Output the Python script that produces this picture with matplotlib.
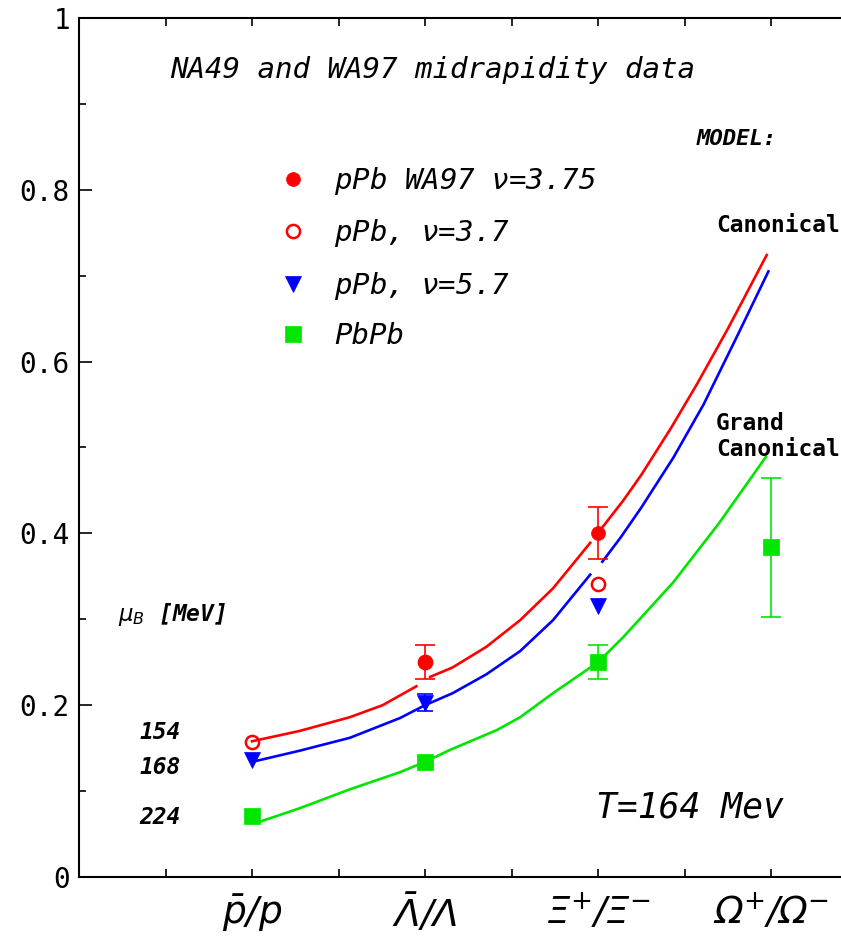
import numpy as np
import matplotlib
matplotlib.use("Agg")
import matplotlib.pyplot as plt
from matplotlib.ticker import MultipleLocator, FixedLocator, FixedFormatter

plt.rcParams['mathtext.fontset'] = 'custom'
plt.rcParams['mathtext.rm'] = 'DejaVu Sans:italic'
plt.rcParams['mathtext.it'] = 'DejaVu Sans:italic'
plt.rcParams['mathtext.bf'] = 'DejaVu Sans:bold:italic'

# ---------------- data ----------------
cat_pos = [2, 4, 6, 8]
cat_labels = [r'$\bar{p}/p$',
              r'$\bar{\Lambda}/\Lambda$',
              r'$\Xi^{+}/\Xi^{-}$',
              r'$\Omega^{+}/\Omega^{-}$']

# pPb WA97 nu=3.75 (filled red circles)
wa97_x = [4, 6]
wa97_y = [0.250, 0.400]
wa97_elo = [0.020, 0.030]
wa97_ehi = [0.020, 0.031]

# pPb nu=3.7 (open red circles)
pPb37_x = [2, 4, 6]
pPb37_y = [0.157, 0.250, 0.341]

# pPb nu=5.7 (blue triangles)
pPb57_x = [2, 4, 6]
pPb57_y = [0.136, 0.203, 0.316]
pPb57_err = [0.0, 0.010, 0.0]

# PbPb (green squares)
pbpb_x = [2, 4, 6, 8]
pbpb_y = [0.071, 0.134, 0.250, 0.384]
pbpb_elo = [0.0, 0.0, 0.020, 0.081]
pbpb_ehi = [0.0, 0.0, 0.020, 0.080]

# model curves (segment by segment)
red_seg1_x = [2.0, 2.55, 3.13, 3.51, 3.90]
red_seg1_y = [0.158, 0.170, 0.186, 0.200, 0.222]
red_seg2_x = [4.06, 4.32, 4.71, 5.10, 5.48, 5.91]
red_seg2_y = [0.233, 0.244, 0.268, 0.299, 0.336, 0.389]
red_seg3_x = [6.05, 6.29, 6.50, 6.84, 7.14, 7.50, 7.72, 7.95]
red_seg3_y = [0.407, 0.438, 0.468, 0.522, 0.573, 0.638, 0.680, 0.724]

blue_seg1_x = [2.0, 2.55, 3.13, 3.71, 4.0, 4.32, 4.71, 5.10, 5.48, 5.91]
blue_seg1_y = [0.134, 0.147, 0.162, 0.185, 0.200, 0.214, 0.236, 0.263, 0.299, 0.352]
blue_seg2_x = [6.05, 6.26, 6.50, 6.87, 7.22, 7.62, 7.97]
blue_seg2_y = [0.367, 0.395, 0.430, 0.488, 0.550, 0.632, 0.705]

green_x = [2.05, 2.55, 3.13, 3.71, 4.0, 4.29, 4.83, 5.10, 5.48, 5.87, 6.0, 6.29, 6.87, 7.40, 7.94]
green_y = [0.063, 0.080, 0.102, 0.122, 0.134, 0.148, 0.171, 0.186, 0.214, 0.241, 0.250, 0.279, 0.343, 0.412, 0.489]

mu_labels = ['154', '168', '224']
mu_label_y = [0.168, 0.128, 0.069]

RED = '#ff0000'
BLUE = '#0000ff'
GREEN = '#00e600'

MONO = 'DejaVu Sans Mono'

# ---------------- figure ----------------
W, H = 841, 949
fig = plt.figure(figsize=(W / 100, H / 100), dpi=100)
ax_left, ax_right, ax_top, ax_bot = 79, 841, 18, 877
ax = fig.add_axes([ax_left / W, (H - ax_bot) / H, (ax_right - ax_left) / W, (ax_bot - ax_top) / H])

x_unit = 86.5
ax.set_xlim(0, (ax_right - ax_left) / x_unit)
ax.set_ylim(0, 1)

for s in ['left', 'top', 'bottom']:
    ax.spines[s].set_linewidth(1.5)
ax.spines['right'].set_visible(False)

# curves
lw = 1.9
ax.plot(red_seg1_x, red_seg1_y, color=RED, lw=lw, zorder=2)
ax.plot(red_seg2_x, red_seg2_y, color=RED, lw=lw, zorder=2)
ax.plot(red_seg3_x, red_seg3_y, color=RED, lw=lw, zorder=2)
ax.plot(blue_seg1_x, blue_seg1_y, color=BLUE, lw=lw, zorder=2)
ax.plot(blue_seg2_x, blue_seg2_y, color=BLUE, lw=lw, zorder=2)
ax.plot(green_x, green_y, color=GREEN, lw=lw, zorder=2)

# error bars (only where present)
def err_subset(x, y, lo, hi):
    idx = [i for i in range(len(x)) if lo[i] > 0 or hi[i] > 0]
    return ([x[i] for i in idx], [y[i] for i in idx],
            [[lo[i] for i in idx], [hi[i] for i in idx]])

ex, ey, ee = err_subset(wa97_x, wa97_y, wa97_elo, wa97_ehi)
ax.errorbar(ex, ey, yerr=ee, fmt='none', ecolor=RED, elinewidth=1.2, capsize=7.5, capthick=1.2, zorder=3)
ex, ey, ee = err_subset(pPb57_x, pPb57_y, pPb57_err, pPb57_err)
ax.errorbar(ex, ey, yerr=ee, fmt='none', ecolor=BLUE, elinewidth=1.2, capsize=6, capthick=1.2, zorder=3)
ex, ey, ee = err_subset(pbpb_x, pbpb_y, pbpb_elo, pbpb_ehi)
ax.errorbar(ex, ey, yerr=ee, fmt='none', ecolor=GREEN, elinewidth=1.2, capsize=7.5, capthick=1.2, zorder=3)

# markers
h1, = ax.plot(wa97_x, wa97_y, 'o', color=RED, ms=10, mew=0.5, ls='none', zorder=4,
              label=r'pPb WA97 $\nu$=3.75')
h2, = ax.plot(pPb37_x, pPb37_y, 'o', mfc='none', mec=RED, ms=9.5, mew=1.8, ls='none', zorder=4,
              label=r'pPb, $\nu$=3.7')
h3, = ax.plot(pPb57_x, pPb57_y, 'v', color=BLUE, ms=11, mew=0.5, ls='none', zorder=4,
              label=r'pPb, $\nu$=5.7')
h4, = ax.plot(pbpb_x, pbpb_y, 's', color=GREEN, ms=11, mew=0.5, ls='none', zorder=4,
              label='PbPb')

leg_font = {'family': MONO, 'style': 'oblique', 'size': 21}
fs_px = 21 * 100 / 72
hl = 0.8
leg = ax.legend(handles=[h1, h2, h3, h4], loc='upper left',
                bbox_to_anchor=((293 - hl * fs_px / 2 - ax_left) / (ax_right - ax_left),
                                (ax_bot - 165) / (ax_bot - ax_top)),
                frameon=False, prop=leg_font, handlelength=hl, handletextpad=1.0,
                labelspacing=0.70, borderpad=0, borderaxespad=0, numpoints=1)

# ticks
ax.xaxis.set_major_locator(FixedLocator(list(range(1, 9))))
xt_labels = []
for t in range(1, 9):
    xt_labels.append(cat_labels[cat_pos.index(t)] if t in cat_pos else '')
ax.xaxis.set_major_formatter(FixedFormatter(xt_labels))
ax.yaxis.set_minor_locator(MultipleLocator(0.1))
ax.set_yticks([0, 0.2, 0.4, 0.6, 0.8, 1.0])
ax.set_yticklabels(['0', '0.2', '0.4', '0.6', '0.8', '1'])

ax.tick_params(axis='x', which='major', direction='in', length=6, width=1.2, top=True, bottom=True,
               pad=11, labelsize=27)
ax.tick_params(axis='y', which='major', direction='in', length=9.5, width=1.2, left=True, right=False,
               pad=6.5, labelsize=20)
ax.tick_params(axis='y', which='minor', direction='in', length=5, width=1.2, left=True, right=False)
for lab in ax.get_yticklabels():
    lab.set_family(MONO)

# texts
def px2data(px, py):
    return (px - ax_left) / x_unit, (ax_bot - py) / (ax_bot - ax_top)

tx, ty = px2data(170, 70)
ax.text(tx, ty, 'NA49 and WA97 midrapidity data', family=MONO, style='oblique', fontsize=21,
        ha='left', va='center')
tx, ty = px2data(697, 139)
ax.text(tx, ty, 'MODEL:', family=MONO, style='oblique', weight='bold', fontsize=16,
        ha='left', va='center')
tx, ty = px2data(716, 226)
ax.text(tx, ty, 'Canonical', family=MONO, weight='bold', fontsize=16.5, ha='left', va='center')
tx, ty = px2data(716, 423)
ax.text(tx, ty, 'Grand', family=MONO, weight='bold', fontsize=16.5, ha='left', va='center')
tx, ty = px2data(716, 449)
ax.text(tx, ty, 'Canonical', family=MONO, weight='bold', fontsize=16.5, ha='left', va='center')
tx, ty = px2data(118, 615)
ax.text(tx, ty, r'$\mu_{B}$ [MeV]', family=MONO, style='oblique', weight='bold', fontsize=16.5,
        ha='left', va='center')
mx, _ = px2data(181, 0)
for lab, yy in zip(mu_labels, mu_label_y):
    ax.text(mx, yy, lab, family=MONO, style='oblique', weight='bold', fontsize=16.5,
            ha='right', va='center')
tx, ty = px2data(596, 808)
ax.text(tx, ty, 'T=164 Mev', family=MONO, style='oblique', fontsize=25, ha='left', va='center')

fig.savefig('out.png', dpi=100)
